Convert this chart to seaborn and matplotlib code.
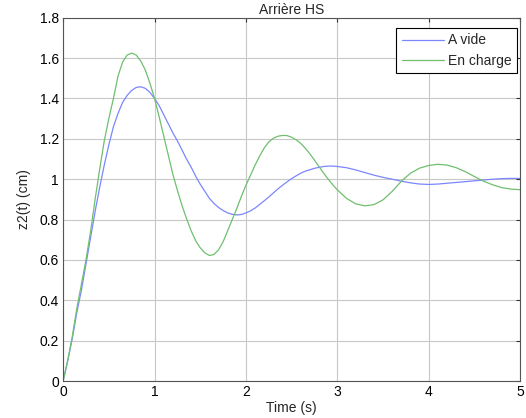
import seaborn as sns
import matplotlib.pyplot as plt
import pandas as pd

# Step response of z2(t)
time = [0.00, 0.05, 0.10, 0.15, 0.20, 0.25, 0.30, 0.35, 0.40, 0.45,
        0.50, 0.55, 0.60, 0.65, 0.70, 0.75, 0.80, 0.85, 0.90, 0.95,
        1.00, 1.05, 1.10, 1.15, 1.20, 1.25, 1.30, 1.35, 1.40, 1.45,
        1.50, 1.55, 1.60, 1.65, 1.70, 1.75, 1.80, 1.85, 1.90, 1.95,
        2.00, 2.05, 2.10, 2.15, 2.20, 2.25, 2.30, 2.35, 2.40, 2.45,
        2.50, 2.55, 2.60, 2.65, 2.70, 2.75, 2.80, 2.85, 2.90, 2.95,
        3.0, 3.1, 3.2, 3.3, 3.4, 3.5, 3.6, 3.7, 3.8, 3.9,
        4.0, 4.1, 4.2, 4.3, 4.4, 4.5, 4.6, 4.7, 4.8, 4.9, 5.0]

a_vide = [0.0, 0.10, 0.21, 0.34, 0.45, 0.58, 0.71, 0.84, 0.96, 1.07,
          1.17, 1.26, 1.325, 1.38, 1.415, 1.44, 1.455, 1.458, 1.45, 1.43,
          1.40, 1.365, 1.32, 1.275, 1.23, 1.19, 1.145, 1.10, 1.06, 1.015,
          0.975, 0.94, 0.905, 0.88, 0.86, 0.845, 0.833, 0.826, 0.823, 0.825,
          0.833, 0.843, 0.857, 0.875, 0.893, 0.912, 0.932, 0.952, 0.97, 0.987,
          1.003, 1.017, 1.03, 1.04, 1.047, 1.054, 1.059, 1.063, 1.065, 1.065,
          1.063, 1.057, 1.046, 1.033, 1.02, 1.009, 1.0, 0.99, 0.982, 0.976,
          0.974, 0.976, 0.98, 0.984, 0.988, 0.992, 0.996, 1.0, 1.003, 1.004, 1.004]

en_charge = [0.0, 0.10, 0.22, 0.36, 0.48, 0.60, 0.74, 0.90, 1.05, 1.19,
             1.30, 1.40, 1.51, 1.58, 1.615, 1.625, 1.615, 1.585, 1.54, 1.475,
             1.40, 1.31, 1.215, 1.12, 1.025, 0.945, 0.87, 0.805, 0.745, 0.695,
             0.66, 0.635, 0.622, 0.627, 0.65, 0.69, 0.745, 0.80, 0.855, 0.915,
             0.97, 1.02, 1.07, 1.115, 1.155, 1.185, 1.203, 1.213, 1.217, 1.216,
             1.208, 1.195, 1.177, 1.153, 1.125, 1.094, 1.062, 1.03, 1.0, 0.972,
             0.947, 0.905, 0.878, 0.868, 0.874, 0.898, 0.94, 0.99, 1.03, 1.055,
             1.068, 1.074, 1.07, 1.057, 1.037, 1.013, 0.99, 0.972, 0.958, 0.951, 0.948]

df = pd.DataFrame({
    "Time": time * 2,
    "z2": a_vide + en_charge,
    "Case": ["A vide"] * len(time) + ["En charge"] * len(time),
})

sns.set_style("white")
plt.rcParams["font.family"] = ["Liberation Sans", "DejaVu Sans"]
plt.rcParams["font.size"] = 10

fig = plt.figure(figsize=(5.26, 4.18), dpi=100)
ax = fig.add_axes([0.12, 0.0885, 0.869, 0.869])

sns.lineplot(data=df, x="Time", y="z2", hue="Case",
             palette={"A vide": "#7b86ff", "En charge": "#6fbf6f"},
             linewidth=0.9, ax=ax)

ax.set_xlim(0, 5)
ax.set_ylim(0, 1.8)
ax.set_xticks([0, 1, 2, 3, 4, 5])
ax.set_xticklabels(["0", "1", "2", "3", "4", "5"])
ax.set_yticks([0, 0.2, 0.4, 0.6, 0.8, 1.0, 1.2, 1.4, 1.6, 1.8])
ax.set_yticklabels(["0", "0.2", "0.4", "0.6", "0.8", "1", "1.2", "1.4", "1.6", "1.8"])
ax.grid(True, color="#c8c8c8", linewidth=0.8)
ax.tick_params(direction="in", length=3, top=True, right=True,
               labelsize=10, colors="#333333", labelcolor="black", pad=3)
for s in ax.spines.values():
    s.set_color("#555555")
    s.set_linewidth(0.8)

ax.set_title("Arrière HS", fontsize=10, pad=3)
ax.set_xlabel("Time (s)", fontsize=10, labelpad=1)
ax.set_ylabel("z2(t) (cm)", fontsize=10, labelpad=6)

leg = ax.legend(loc="upper right", bbox_to_anchor=(0.993, 0.972),
                borderaxespad=0, frameon=True, fancybox=False,
                handlelength=3.0, borderpad=0.4, labelspacing=0.45,
                handletextpad=0.3, fontsize=10, framealpha=1)
leg.get_frame().set_edgecolor("black")
leg.get_frame().set_linewidth(0.8)

plt.savefig("out.png", dpi=100)
